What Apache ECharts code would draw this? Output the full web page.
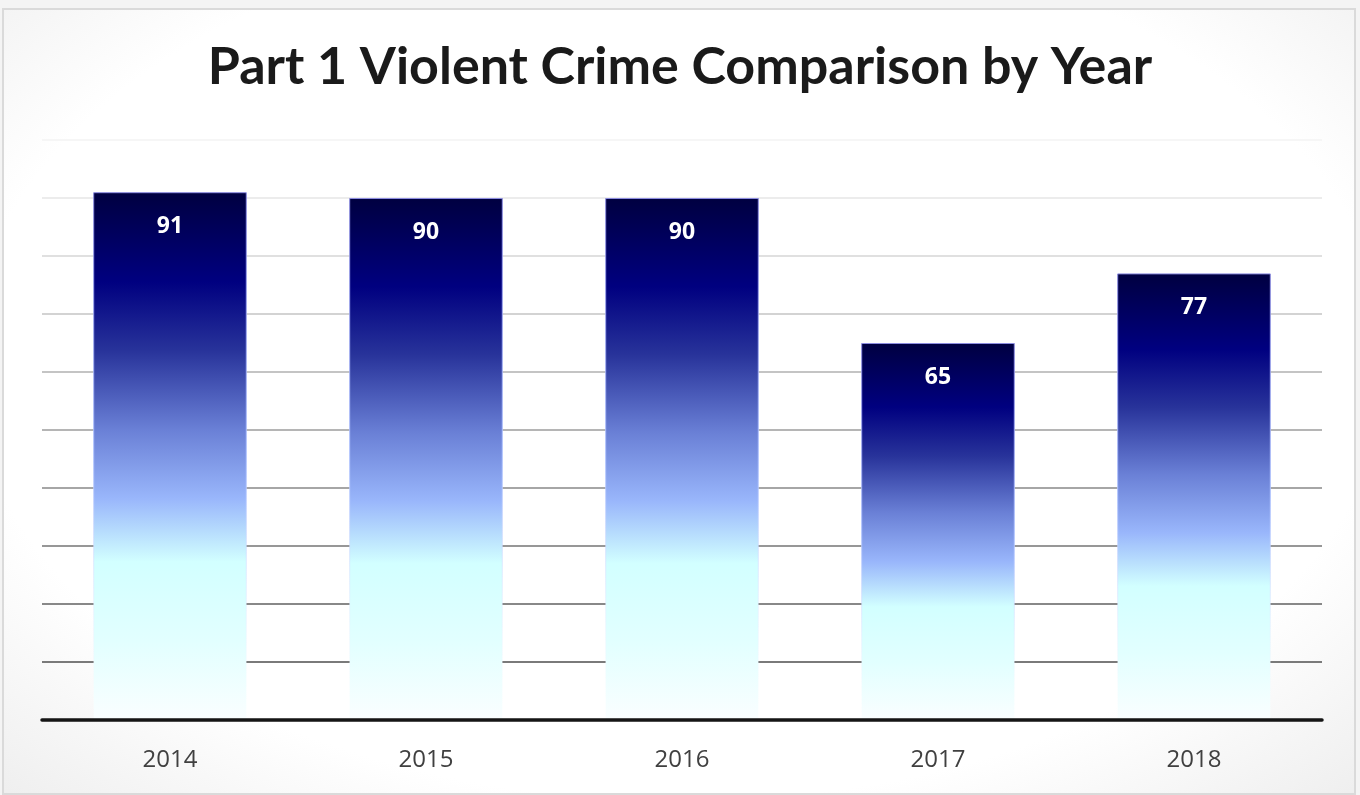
<!DOCTYPE html>
<html>
<head>
<meta charset="utf-8">
<script src="https://cdn.jsdelivr.net/npm/echarts@6/dist/echarts.min.js"></script>
<style>
  html, body { margin: 0; padding: 0; width: 1360px; height: 795px; overflow: hidden; background: #f4f4f4; }
  #frame { position: absolute; left: 2px; top: 8px; width: 1350px; height: 783px; border: 2px solid #dadada;
    background: radial-gradient(ellipse 75% 80% at 50% 45%, #ffffff 70%, #ececec 100%); }
  #chart { position: absolute; left: 0; top: 0; width: 1360px; height: 795px; }
</style>
</head>
<body>
<div id="frame"></div>
<div id="chart"></div>
<script>
const titleText = 'Part 1 Violent Crime Comparison by Year';
const years = ['2014', '2015', '2016', '2017', '2018'];
const crimes = [91, 90, 90, 65, 77];
const gridColors = ['#000000', '#7a7a7a', '#888888', '#979797', '#a6a6a6', '#b5b5b5', '#c4c4c4', '#d3d3d3', '#e0e0e0', '#ececec', '#f6f6f6'];

const chart = echarts.init(document.getElementById('chart'));
const barGradient = new echarts.graphic.LinearGradient(0, 0, 0, 1, [
  { offset: 0, color: '#000040' },
  { offset: 0.17, color: '#000080' },
  { offset: 0.3, color: '#28339a' },
  { offset: 0.45, color: '#6a80d6' },
  { offset: 0.58, color: '#99b6fb' },
  { offset: 0.7, color: '#d2ffff' },
  { offset: 0.85, color: '#e2ffff' },
  { offset: 1, color: '#fafeff' }
]);
const borderGradient = new echarts.graphic.LinearGradient(0, 0, 0, 1, [
  { offset: 0, color: '#8c8ce0' },
  { offset: 0.5, color: '#b0c4ff' },
  { offset: 1, color: 'rgba(255,255,255,0)' }
]);
chart.setOption({
  animation: false,
  title: {
    text: titleText,
    left: 'center',
    top: 36,
    textStyle: { fontFamily: 'Lato', fontWeight: 'bold', fontSize: 52, color: '#1a1a1a' }
  },
  grid: { left: 42, right: 38, top: 140, bottom: 75, containLabel: false },
  xAxis: {
    type: 'category',
    data: years,
    z: 5,
    axisLine: { lineStyle: { color: '#151515', width: 3.5 } },
    axisTick: { show: false },
    axisLabel: { fontFamily: 'Open Sans', fontSize: 24, color: '#404040', margin: 28 }
  },
  yAxis: {
    type: 'value',
    min: 0, max: 100, interval: 10,
    axisLabel: { show: false },
    axisLine: { show: false },
    axisTick: { show: false },
    splitLine: { lineStyle: { color: gridColors, width: 2 } }
  },
  series: [{
    type: 'bar',
    data: crimes,
    barCategoryGap: '40%',
    itemStyle: { color: barGradient, borderColor: borderGradient, borderWidth: 1 },
    label: {
      show: true, position: 'insideTop', distance: 23,
      color: '#ffffff', fontFamily: 'Open Sans', fontWeight: 'bold', fontSize: 23
    }
  }]
});
</script>
</body>
</html>
